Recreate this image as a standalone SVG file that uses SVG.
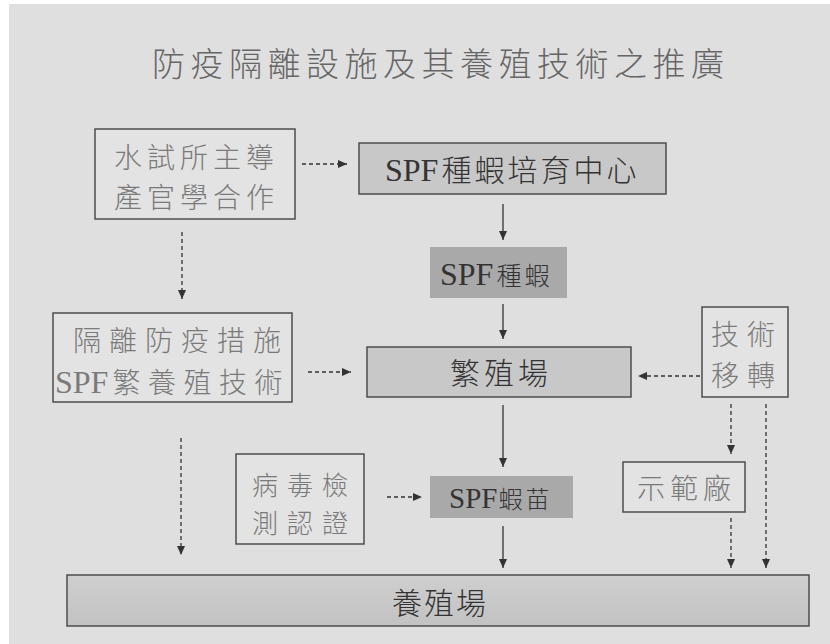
<svg xmlns="http://www.w3.org/2000/svg" width="830" height="644" viewBox="0 0 830 644">
<defs>
<style>
.t{font-family:"Liberation Serif","Noto Sans CJK TC",serif;font-weight:300;}
.lt{fill:#7a7a7a;}
.dk{fill:#333333;}
.lb{fill:#e3e3e3;stroke:#4d4d4d;stroke-width:1.5;}
.gb{fill:#c8c8c8;stroke:#4d4d4d;stroke-width:1.5;}
.db{fill:#a9a9a9;}
.sl{stroke:#333333;stroke-width:1.3;fill:none;marker-end:url(#ah);}
.ds{stroke:#333333;stroke-width:1.3;fill:none;stroke-dasharray:4 3;marker-end:url(#ah);}
</style>
<marker id="ah" markerUnits="userSpaceOnUse" markerWidth="10" markerHeight="9" refX="9" refY="4" orient="auto">
<path d="M0,0 L9,4 L0,8 z" fill="#333333"/>
</marker>
<linearGradient id="jg" x1="0" y1="0" x2="0" y2="1">
<stop offset="0" stop-color="#cfcfcf"/>
<stop offset="1" stop-color="#c2c2c2"/>
</linearGradient>
</defs>
<rect x="0" y="0" width="830" height="644" fill="#ffffff"/>
<rect x="9" y="4" width="821" height="640" fill="#dfdfdf"/>
<text class="t" x="152" y="76" font-size="33" letter-spacing="5.5" fill="#666666">防疫隔離設施及其養殖技術之推廣</text>
<g id="connectors">
<line class="ds" x1="302" y1="164" x2="347" y2="164"/>
<line class="sl" x1="503" y1="204" x2="503" y2="240"/>
<line class="sl" x1="503" y1="304" x2="503" y2="339"/>
<line class="ds" x1="182" y1="232" x2="182" y2="299"/>
<line class="ds" x1="308" y1="372" x2="351" y2="372"/>
<line class="ds" x1="700" y1="376" x2="638" y2="376"/>
<line class="sl" x1="503" y1="405" x2="503" y2="467"/>
<line class="ds" x1="181" y1="438" x2="181" y2="555"/>
<line class="ds" x1="387" y1="497" x2="422" y2="497"/>
<line class="ds" x1="731" y1="404" x2="731" y2="454"/>
<line class="ds" x1="766" y1="404" x2="766" y2="568"/>
<line class="ds" x1="731" y1="518" x2="731" y2="568"/>
<line class="sl" x1="503" y1="526" x2="503" y2="568"/>
</g>
<g id="node-a">
<rect class="lb" x="95" y="129" width="200" height="90"/>
<text class="t lt" x="114" y="168" font-size="28" letter-spacing="5">水試所主導</text>
<text class="t lt" x="114" y="208" font-size="28" letter-spacing="5">產官學合作</text>
</g>
<g id="node-b">
<rect class="gb" x="359" y="143" width="307" height="51"/>
<text class="t dk" x="385" y="181"><tspan font-size="32">SPF</tspan><tspan font-size="30" dx="3" letter-spacing="3">種蝦培育中心</tspan></text>
</g>
<g id="node-c">
<rect class="db" x="430" y="247" width="137" height="51"/>
<text class="t dk" x="440" y="285"><tspan font-size="32">SPF</tspan><tspan font-size="25" dx="3" letter-spacing="3">種蝦</tspan></text>
</g>
<g id="node-d">
<rect class="gb" x="367" y="347" width="264" height="50" fill="#c4c4c4"/>
<text class="t dk" x="450" y="384" font-size="30" letter-spacing="4">繁殖場</text>
</g>
<g id="node-e">
<rect class="lb" x="53" y="313" width="239" height="89"/>
<text class="t lt" x="73" y="351" font-size="28" letter-spacing="8">隔離防疫措施</text>
<text class="t lt" x="55" y="393"><tspan font-size="32">SPF</tspan><tspan font-size="28" dx="4" letter-spacing="7.5">繁養殖技術</tspan></text>
</g>
<g id="node-f">
<rect class="lb" x="702" y="307" width="86" height="90"/>
<text class="t lt" x="711" y="345" font-size="28" letter-spacing="8">技術</text>
<text class="t lt" x="711" y="386" font-size="28" letter-spacing="8">移轉</text>
</g>
<g id="node-h">
<rect class="lb" x="236" y="454" width="128" height="90"/>
<text class="t lt" x="252" y="495" font-size="26" letter-spacing="9">病毒檢</text>
<text class="t lt" x="252" y="533" font-size="26" letter-spacing="9">測認證</text>
</g>
<g id="node-g">
<rect class="db" x="430" y="476" width="143" height="42"/>
<text class="t dk" x="449" y="508"><tspan font-size="29">SPF</tspan><tspan font-size="24" dx="1" letter-spacing="3">蝦苗</tspan></text>
</g>
<g id="node-i">
<rect class="lb" x="623" y="462" width="122" height="50"/>
<text class="t lt" x="637" y="499" font-size="28" letter-spacing="5">示範廠</text>
</g>
<g id="node-j">
<rect x="67" y="575" width="742" height="51" fill="url(#jg)" stroke="#4d4d4d" stroke-width="1.5"/>
<text class="t dk" x="392" y="614" font-size="30" letter-spacing="2">養殖場</text>
</g>
</svg>
